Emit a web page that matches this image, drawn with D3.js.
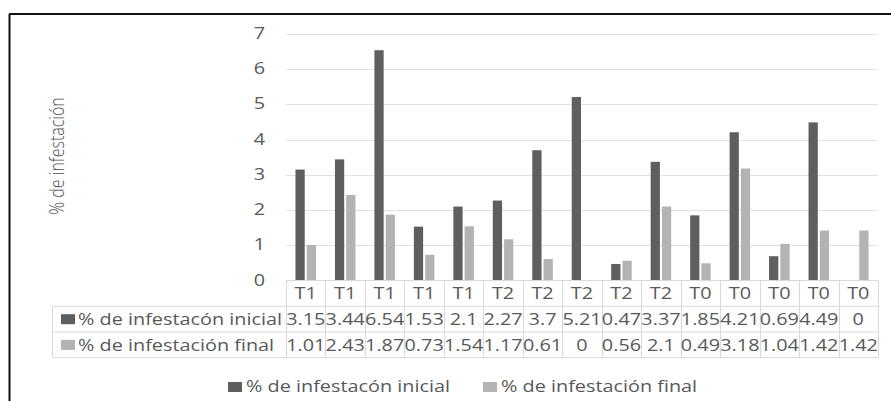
<!DOCTYPE html>
<html>
<head>
<meta charset="utf-8">
<script src="https://cdn.jsdelivr.net/npm/d3@7"></script>
<style>
  html, body { margin: 0; padding: 0; background: #fff; }
  svg { display: block; }
  text { font-family: "Open Sans", "Noto Sans", sans-serif; fill: #595959; }
</style>
</head>
<body>
<svg id="chart" width="891" height="401"></svg>
<script>
// Treatments per plot, in table order
const categories = ["T1","T1","T1","T1","T1","T2","T2","T2","T2","T2","T0","T0","T0","T0","T0"];
// % de infestación inicial
const inicial = [3.15, 3.44, 6.54, 1.53, 2.1, 2.27, 3.7, 5.21, 0.47, 3.37, 1.85, 4.21, 0.69, 4.49, 0];
// % de infestación final
const final = [1.01, 2.43, 1.87, 0.73, 1.54, 1.17, 0.61, 0, 0.56, 2.1, 0.49, 3.18, 1.04, 1.42, 1.42];
const seriesNames = ["% de infestacón inicial", "% de infestación final"];
const yTicks = [0, 1, 2, 3, 4, 5, 6, 7];

const seriesValues = [inicial, final];
const colors = ["#5f5f5f", "#b3b3b3"];
const SX = 1.28;          // horizontal stretch of the lettering
const FS = 15.5;          // base font size
const gridColor = "#e2e2e2";
const tableColor = "#d9d9d9";

const svg = d3.select("#chart");

// outer frame (top and left edges)
svg.append("line").attr("x1", 9).attr("x2", 891).attr("y1", 14).attr("y2", 14)
  .attr("stroke", "#111").attr("stroke-width", 2);
svg.append("line").attr("x1", 9.5).attr("x2", 9.5).attr("y1", 14).attr("y2", 401)
  .attr("stroke", "#111").attr("stroke-width", 2);

const plotLeft = 286, plotRight = 878, plotTop = 34, plotBottom = 280.5;

const x = d3.scaleBand().domain(d3.range(categories.length))
  .range([plotLeft, plotRight]).paddingInner(0.48).paddingOuter(0.24);
const xCol = d3.scaleBand().domain(d3.range(categories.length))
  .range([plotLeft, plotRight]).padding(0);
const xInner = d3.scaleBand().domain(d3.range(seriesValues.length))
  .range([0, x.bandwidth()]).paddingInner(0.18).paddingOuter(0);
const y = d3.scaleLinear().domain([0, 7]).range([plotBottom, plotTop]);

function label(g, tx, ty, str, anchor, size) {
  return g.append("text")
    .attr("transform", `translate(${tx},${ty}) scale(${SX},1)`)
    .attr("text-anchor", anchor || "middle")
    .style("font-size", (size || FS) + "px")
    .text(str);
}

// gridlines
svg.append("g").selectAll("line").data(yTicks.filter(t => t > 0)).join("line")
  .attr("x1", plotLeft).attr("x2", plotRight)
  .attr("y1", d => Math.round(y(d)) + 0.5).attr("y2", d => Math.round(y(d)) + 0.5)
  .attr("stroke", gridColor).attr("stroke-width", 1);

// y tick labels
const yAxisG = svg.append("g");
yTicks.forEach(t => label(yAxisG, 265, y(t) + 5, String(t), "end", FS));

// y axis title
svg.append("text")
  .attr("transform", `translate(64,156) scale(${SX},1) rotate(-90)`)
  .attr("text-anchor", "middle")
  .style("font-size", "16px")
  .style("font-weight", 300)
  .style("fill", "#505050")
  .text("% de infestación");

// bars
const groups = svg.append("g").selectAll("g").data(categories).join("g")
  .attr("transform", (d, i) => `translate(${x(i)},0)`);
seriesValues.forEach((vals, s) => {
  groups.append("rect")
    .attr("x", xInner(s))
    .attr("width", xInner.bandwidth())
    .attr("y", (d, i) => y(vals[i]))
    .attr("height", (d, i) => plotBottom - y(vals[i]))
    .attr("fill", colors[s]);
});

// data table
const tableLeft = 52, rowH = 25.7;
const rows = [plotBottom, plotBottom + rowH, plotBottom + 2 * rowH, plotBottom + 3 * rowH];
const tbl = svg.append("g").attr("stroke", tableColor).attr("stroke-width", 1);
tbl.append("line").attr("x1", plotLeft).attr("x2", plotRight).attr("y1", rows[0]).attr("y2", rows[0]);
[1, 2, 3].forEach(r => tbl.append("line")
  .attr("x1", tableLeft).attr("x2", plotRight).attr("y1", rows[r]).attr("y2", rows[r]));
tbl.append("line").attr("x1", tableLeft + 0.5).attr("x2", tableLeft + 0.5)
  .attr("y1", rows[1]).attr("y2", rows[3]);
d3.range(categories.length + 1).forEach(i => {
  const cx = Math.round(plotLeft + i * xCol.step()) + 0.5;
  tbl.append("line").attr("x1", cx).attr("x2", cx).attr("y1", rows[0]).attr("y2", rows[3]);
});

const tblText = svg.append("g");
categories.forEach((c, i) => {
  const cx = xCol(i) + xCol.bandwidth() / 2;
  label(tblText, cx, rows[0] + 18, c, "middle");
  seriesValues.forEach((vals, s) => label(tblText, cx, rows[1 + s] + 19, String(vals[i]), "middle"));
});
seriesNames.forEach((name, s) => {
  const ry = rows[1 + s];
  tblText.append("rect").attr("x", 61).attr("y", ry + 8).attr("width", 14).attr("height", 10)
    .attr("fill", colors[s]);
  label(tblText, 78, ry + 19, name, "start");
});

// legend
const legend = svg.append("g");
const legendX = [228, 483];
seriesNames.forEach((name, s) => {
  legend.append("rect").attr("x", legendX[s]).attr("y", 382).attr("width", 14).attr("height", 10)
    .attr("fill", colors[s]);
  label(legend, legendX[s] + 18, 392, name, "start");
});
</script>
</body>
</html>
